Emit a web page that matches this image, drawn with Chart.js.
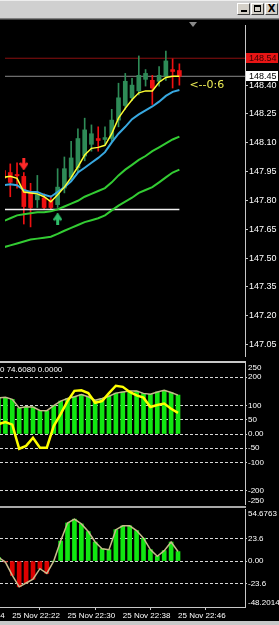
<!DOCTYPE html>
<html>
<head>
<meta charset="utf-8">
<script src="https://cdn.jsdelivr.net/npm/chart.js@4.4.0/dist/chart.umd.min.js"></script>
<style>
  html, body { margin: 0; padding: 0; background: #000; }
  #win { position: relative; width: 279px; height: 625px; overflow: hidden; background: #000; }
  #titlebar { position: absolute; left: 0; top: 0; width: 279px; height: 18px; background: #d0d0d0; border-top: 1px solid #eeeeee; box-sizing: border-box; }
  .hline { position: absolute; left: 0; }
  .btn { position: absolute; top: 3px; width: 13px; height: 12px; background: #d4d0c8; box-sizing: border-box;
         border-top: 1px solid #fff; border-left: 1px solid #fff; border-right: 1px solid #404040; border-bottom: 1px solid #404040;
         font: bold 10px "DejaVu Sans"; color: #000; text-align: center; line-height: 10px; }
  canvas { position: absolute; left: 0; }
</style>
</head>
<body>
<div id="win">
  <div id="titlebar"></div>
  <div class="btn" style="left:237px"><span style="position:absolute;left:3px;top:6px;width:6px;height:2px;background:#000"></span></div>
  <div class="btn" style="left:251px"><span style="position:absolute;left:2px;top:1px;width:7px;height:7px;border:1px solid #000;border-top-width:2px;box-sizing:border-box"></span></div>
  <div class="btn" style="left:265px">X</div>
  <div class="hline" style="top:18px;width:279px;height:1px;background:#808080"></div>
  <div class="hline" style="top:19px;width:279px;height:1px;background:#404040"></div>
  <div style="position:absolute;left:189px;top:22px;width:0;height:0;border-left:4px solid transparent;border-right:4px solid transparent;border-top:5px solid #8a8a8a"></div>

  <canvas id="cA" width="279" height="341" style="top:20px"></canvas>
  <div class="hline" style="top:361px;width:246px;height:2px;background:#c8c8c8"></div>
  <canvas id="cB" width="279" height="142" style="top:363px"></canvas>
  <div class="hline" style="top:506px;width:246px;height:2px;background:#a8a8a8"></div>
  <canvas id="cC" width="279" height="112" style="top:509px"></canvas>
  <div class="hline" style="top:621px;width:279px;height:4px;background:#c8c8c8"></div>
</div>
<script>
// one-minute candles, 25 Nov 22:20 .. 22:46
const times = ['22:20','22:21','22:22','22:23','22:24','22:25','22:26','22:27','22:28','22:29',
               '22:30','22:31','22:32','22:33','22:34','22:35','22:36','22:37','22:38','22:39',
               '22:40','22:41','22:42','22:43','22:44','22:45','22:46'];
const opens  = [147.955,147.945,147.935,147.925,147.844,147.803,147.813,147.803,147.778,147.864,
                147.920,147.970,148.031,148.092,148.122,148.117,148.122,148.218,148.294,148.334,
                148.370,148.430,148.425,148.420,148.446,148.481,148.476];
const highs  = [147.980,147.990,147.996,147.945,147.889,147.930,147.834,147.824,147.965,148.026,
                148.107,148.172,148.228,148.193,148.183,148.183,148.274,148.410,148.461,148.435,
                148.552,148.481,148.451,148.496,148.577,148.537,148.511];
const lows   = [147.869,147.819,147.864,147.677,147.662,147.763,147.753,147.753,147.763,147.839,
                147.905,147.945,148.006,148.056,148.056,148.092,148.107,148.183,148.274,148.319,
                148.349,148.395,148.299,148.395,148.425,148.385,148.400];
const closes = [147.915,147.894,147.928,147.768,147.763,147.829,147.763,147.763,147.869,147.965,
                148.021,148.122,148.167,148.147,148.112,148.127,148.218,148.334,148.420,148.400,
                148.451,148.461,148.385,148.451,148.526,148.471,148.446];

// moving averages on the price panel
const maYellow = [147.920,147.925,147.915,147.844,147.839,147.834,147.819,147.793,147.829,147.869,
                  147.920,147.975,148.036,148.071,148.076,148.087,148.147,148.228,148.279,148.324,
                  148.360,148.370,148.370,148.415,148.440,148.446,148.446];
const maBlue   = [147.879,147.884,147.879,147.854,147.844,147.844,147.829,147.819,147.844,147.869,
                  147.899,147.945,147.970,147.996,148.021,148.051,148.102,148.147,148.183,148.223,
                  148.248,148.269,148.289,148.314,148.344,148.365,148.375];
const maGreen1 = [147.692,147.707,147.722,147.728,147.733,147.738,147.738,147.743,147.753,147.768,
                  147.783,147.798,147.819,147.834,147.849,147.864,147.894,147.930,147.960,147.985,
                  148.011,148.031,148.056,148.076,148.097,148.117,148.132];
const maGreen2 = [147.556,147.566,147.576,147.586,147.596,147.601,147.606,147.611,147.626,147.642,
                  147.657,147.672,147.687,147.697,147.707,147.722,147.748,147.773,147.793,147.814,
                  147.839,147.854,147.869,147.894,147.920,147.945,147.960];

// levels and signals
const askPrice = 148.54;
const trendLevel = 147.753;
const sellArrow = { k: 3, price: 147.990 };
const buyArrow  = { k: 8, price: 147.702 };
const countdownText = '<--0:6';
const countdownPrice = 148.40;

// oscillator subwindow
const oscHist   = [127,129,122,92,96,95,83,82,100,116,125,131,139,131,119,125,133,144,148,151,
                   151,143,140,148,154,146,137];
const oscSignal = [35,42,33,-52,-42,-13,-48,-48,28,70,116,152,154,144,110,116,144,170,166,148,
                   136,128,95,102,107,89,74.608];
const oscTitle = '0 74.6080 0.0000';

// momentum subwindow
const momHist = [4,-1,-15,-27,-23,-19,-8,-13,0,21,40,44,39,31,20,13,12,33,37,37,32,24,12,5,11,20,10];

// axes
const priceTicks = [148.40,148.25,148.10,147.95,147.80,147.65,147.50,147.35,147.20,147.05];
const priceRange = [146.99, 148.713];
const oscTicks = [200,100,50,0,-50,-100,-200];
const oscRange = [-250, 250];
const momTicks = [23.6,0,-23.6];
const momRange = [-48.2014, 54.6763];
const xTickIndex  = [-6, 2, 10, 18, 26];
const xTickLabels = ['25 Nov 22:14','25 Nov 22:22','25 Nov 22:30','25 Nov 22:38','25 Nov 22:46'];

Chart.defaults.font.family = 'Liberation Sans';
const X_MIN = 0.22, X_MAX = 35.7, AXIS_W = 34;
const BULL = '#2e8b57', BEAR = '#ee1111';
const AXIS_COL = '#c8c8c8';

const xy = arr => arr.map((v, k) => ({ x: k, y: v }));
const candleColor = c => closes[c.dataIndex] >= opens[c.dataIndex] ? BULL : BEAR;

function hiddenX() {
    return {
        type: 'linear', min: X_MIN, max: X_MAX, offset: false, display: false,
        afterFit(s) { s.paddingLeft = 0; s.paddingRight = 0; }
    };
}

function rightY(range, ticks, fmt, dashed, tickLen, fontSize) {
    return {
        position: 'right', min: range[0], max: range[1],
        afterBuildTicks(s) { s.ticks = ticks.map(v => ({ value: v })); },
        afterFit(s) { s.width = AXIS_W; s.paddingTop = 0; s.paddingBottom = 0; },
        grid: {
            drawOnChartArea: dashed, drawTicks: true, tickLength: tickLen,
            color: '#d8d8d8', tickColor: AXIS_COL, lineWidth: 1
        },
        border: { display: true, color: AXIS_COL, width: 1, dash: dashed ? [3, 2] : [] },
        ticks: { color: '#fff', font: { size: fontSize }, padding: 1, autoSkip: false, callback: fmt }
    };
}

function edgeLabels(top, bottom) {
    return {
        id: 'edgeLabels',
        afterDraw(chart) {
            const s = chart.scales.y, g = chart.ctx;
            g.save();
            g.fillStyle = '#fff';
            g.font = '8px "Liberation Sans"';
            g.textAlign = 'left';
            g.textBaseline = 'top';
            g.fillText(top, s.left + 3, s.getPixelForValue(s.max) + 1);
            g.textBaseline = 'bottom';
            g.fillText(bottom, s.left + 3, s.getPixelForValue(s.min));
            g.restore();
        }
    };
}

function arrowImage(color, up) {
    const c = document.createElement('canvas');
    c.width = 9; c.height = 12;
    const g = c.getContext('2d');
    if (up) { g.translate(0, 12); g.scale(1, -1); }
    g.fillStyle = color; g.strokeStyle = color;
    g.fillRect(3, 0, 3, 9);
    g.lineWidth = 2.5;
    g.beginPath(); g.moveTo(0.8, 5); g.lineTo(4.5, 10.5); g.lineTo(8.2, 5); g.stroke();
    return c;
}

const baseOpts = {
    responsive: false, animation: false, events: [],
    layout: { padding: 0 },
    plugins: { legend: { display: false }, tooltip: { enabled: false } }
};

function lineSet(data, color, width, order) {
    return { type: 'line', data: data, borderColor: color, borderWidth: width, pointRadius: 0,
             tension: 0, fill: false, clip: 0, order: order };
}

// ---------- price panel ----------
const mainExtras = {
    id: 'mainExtras',
    afterDraw(chart) {
        const y = chart.scales.y, x = chart.scales.x, g = chart.ctx;
        g.save();
        g.font = '9px "Liberation Sans"';
        g.textBaseline = 'middle';
        g.textAlign = 'left';
        // price tags
        const tag = (price, bg, fg) => {
            const py = Math.round(y.getPixelForValue(price));
            g.fillStyle = bg;
            g.fillRect(y.left + 1, py - 5, 32, 10);
            g.fillStyle = fg;
            g.fillText(price.toFixed(2), y.left + 4, py + 0.5);
        };
        tag(askPrice, '#e81515', '#3a0000');
        tag(closes[closes.length - 1], '#ffffff', '#000000');
        // countdown text
        g.fillStyle = '#eeee55';
        g.font = '11px "DejaVu Sans"';
        g.fillText(countdownText, x.getPixelForValue(closes.length - 1) + 10, y.getPixelForValue(countdownPrice));
        g.restore();
    }
};

new Chart(document.getElementById('cA'), {
    type: 'bar',
    data: {
        datasets: [
            { data: times.map((t, k) => ({ x: k, y: [lows[k], highs[k]] })), barThickness: 1,
              backgroundColor: candleColor, grouped: false, order: 20 },
            { data: times.map((t, k) => ({ x: k, y: [opens[k], closes[k]] })), barThickness: 4,
              minBarLength: 1, backgroundColor: candleColor, grouped: false, order: 19 },
            lineSet([{ x: -20, y: askPrice }, { x: 60, y: askPrice }], '#8c1010', 1, 30),
            lineSet([{ x: -20, y: closes[closes.length - 1] }, { x: 60, y: closes[closes.length - 1] }], '#8a8a8a', 1, 30),
            lineSet([{ x: -20, y: trendLevel }, { x: times.length - 1, y: trendLevel }], '#f0f0f0', 1.5, 5),
            lineSet(xy(maGreen2), '#33cc33', 2, 4),
            lineSet(xy(maGreen1), '#33cc33', 2, 3),
            lineSet(xy(maBlue), '#38a8e0', 2, 2),
            lineSet(xy(maYellow), '#ffff33', 1.5, 1),
            { type: 'line', showLine: false, data: [{ x: sellArrow.k, y: sellArrow.price }],
              pointStyle: arrowImage('#ff2a2a', false), clip: 0, order: 0 },
            { type: 'line', showLine: false, data: [{ x: buyArrow.k, y: buyArrow.price }],
              pointStyle: arrowImage('#2fbf6a', true), clip: 0, order: 0 }
        ]
    },
    options: Object.assign({}, baseOpts, {
        scales: { x: hiddenX(), y: rightY(priceRange, priceTicks, v => v.toFixed(2), false, 3, 9) }
    }),
    plugins: [mainExtras]
});

// ---------- oscillator panel ----------
const oscTitlePlugin = {
    id: 'oscTitle',
    afterDraw(chart) {
        const g = chart.ctx;
        g.save();
        g.fillStyle = '#fff';
        g.font = '8px "Liberation Sans"';
        g.textBaseline = 'top';
        g.textAlign = 'left';
        g.fillText(oscTitle, 0, chart.chartArea.top + 3);
        g.restore();
    }
};

new Chart(document.getElementById('cB'), {
    type: 'bar',
    data: {
        datasets: [
            { data: xy(oscHist), barThickness: 4, backgroundColor: '#11e611', grouped: false, order: 10 },
            lineSet(xy(oscHist), '#c6b98c', 1.5, 2),
            lineSet(xy(oscSignal), '#ffff00', 2.5, 1)
        ]
    },
    options: Object.assign({}, baseOpts, {
        scales: { x: hiddenX(), y: rightY(oscRange, oscTicks, v => v === 0 ? '0.00' : String(v), true, 2, 8) }
    }),
    plugins: [oscTitlePlugin, edgeLabels(String(oscRange[1]), String(oscRange[0]))]
});

// ---------- momentum panel ----------
new Chart(document.getElementById('cC'), {
    type: 'bar',
    data: {
        datasets: [
            { data: xy(momHist), barThickness: 4, grouped: false, order: 10,
              backgroundColor: c => momHist[c.dataIndex] >= 0 ? '#11e611' : '#dd0000' },
            lineSet(xy(momHist), '#c8bb8c', 1.5, 1)
        ]
    },
    options: Object.assign({}, baseOpts, {
        scales: {
            x: {
                type: 'linear', min: X_MIN, max: X_MAX, offset: false, position: 'bottom',
                afterBuildTicks(s) { s.ticks = xTickIndex.map(v => ({ value: v })); },
                afterFit(s) { s.height = 14; s.paddingLeft = 0; s.paddingRight = 0; },
                grid: { drawOnChartArea: false, drawTicks: true, tickLength: 3, tickColor: AXIS_COL },
                border: { display: true, color: AXIS_COL, width: 1 },
                ticks: { color: '#fff', font: { size: 8 }, padding: 1, align: 'start', autoSkip: false,
                         maxRotation: 0, minRotation: 0, callback: (v, i) => xTickLabels[i] }
            },
            y: rightY(momRange, momTicks, v => v === 0 ? '0.00' : String(v), true, 2, 8)
        }
    }),
    plugins: [edgeLabels(momRange[1].toFixed(4), momRange[0].toFixed(4))]
});
</script>
</body>
</html>
